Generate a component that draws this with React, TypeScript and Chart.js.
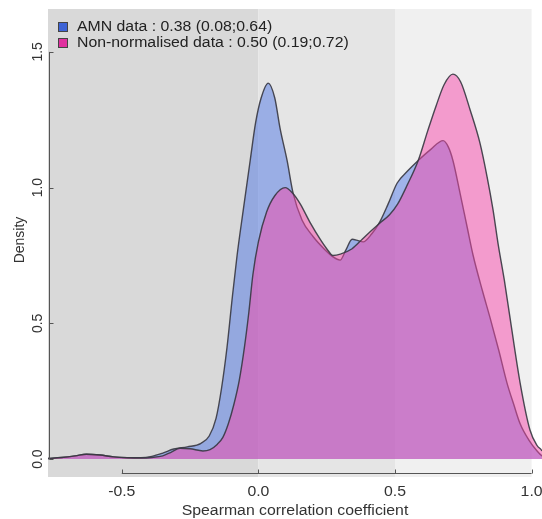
import React, { useEffect, useRef } from "react";
import { Chart, registerables } from "chart.js";

Chart.register(...registerables);

// ---- data ----
const amnX = [-0.77, -0.72, -0.67, -0.63, -0.58, -0.53, -0.48, -0.43, -0.39, -0.35, -0.31, -0.26, -0.21, -0.18, -0.155, -0.135, -0.115, -0.095, -0.078, -0.055, -0.03, -0.01, 0.01, 0.036, 0.06, 0.079, 0.105, 0.127, 0.16, 0.2, 0.24, 0.273, 0.299, 0.32, 0.343, 0.365, 0.383, 0.415, 0.445, 0.475, 0.508, 0.545, 0.585, 0.63, 0.676, 0.695, 0.712, 0.738, 0.764, 0.786, 0.82, 0.848, 0.88, 0.91, 0.935, 0.958, 0.99, 1.02, 1.04, 1.06];
const amnY = [0.002, 0.006, 0.012, 0.018, 0.015, 0.008, 0.005, 0.005, 0.01, 0.022, 0.037, 0.045, 0.058, 0.085, 0.15, 0.26, 0.41, 0.6, 0.75, 0.92, 1.1, 1.24, 1.33, 1.385, 1.33, 1.22, 1.1, 0.98, 0.88, 0.82, 0.775, 0.745, 0.733, 0.77, 0.81, 0.805, 0.8, 0.83, 0.875, 0.94, 1.017, 1.06, 1.1, 1.14, 1.173, 1.15, 1.1, 0.98, 0.855, 0.75, 0.62, 0.52, 0.4, 0.28, 0.2, 0.13, 0.07, 0.03, 0.01, 0];

const nonNormX = [-0.77, -0.72, -0.67, -0.63, -0.58, -0.53, -0.48, -0.43, -0.39, -0.35, -0.32, -0.287, -0.25, -0.203, -0.177, -0.15, -0.13, -0.11, -0.09, -0.07, -0.05, -0.035, -0.02, 0, 0.03, 0.06, 0.098, 0.125, 0.153, 0.19, 0.226, 0.25, 0.273, 0.3, 0.343, 0.38, 0.416, 0.445, 0.48, 0.51, 0.545, 0.585, 0.62, 0.65, 0.68, 0.712, 0.74, 0.775, 0.811, 0.837, 0.859, 0.877, 0.9, 0.921, 0.958, 0.994, 1.02, 1.038, 1.05];
const nonNormY = [0.002, 0.006, 0.012, 0.018, 0.015, 0.008, 0.005, 0.004, 0.006, 0.012, 0.025, 0.04, 0.038, 0.03, 0.035, 0.055, 0.08, 0.13, 0.2, 0.29, 0.42, 0.54, 0.68, 0.8, 0.91, 0.97, 1.0, 0.98, 0.94, 0.87, 0.81, 0.775, 0.75, 0.755, 0.775, 0.81, 0.844, 0.87, 0.9, 0.94, 1.01, 1.1, 1.21, 1.3, 1.38, 1.418, 1.39, 1.286, 1.164, 1.04, 0.917, 0.795, 0.66, 0.52, 0.28, 0.107, 0.05, 0.03, 0];

const seriesNames = ["AMN data : 0.38 (0.08;0.64)", "Non-normalised data : 0.50 (0.19;0.72)"];
const xTicks = [-0.5, 0, 0.5, 1.0];
const xTickLabels = ["-0.5", "0.0", "0.5", "1.0"];
const yTicks = [0, 0.5, 1.0, 1.5];
const yTickLabels = ["0.0", "0.5", "1.0", "1.5"];
const bandEdges = [-0.77, 0, 0.5, 1.0];
const xTitle = "Spearman correlation coefficient";
const yTitle = "Density";

// ---- styles ----
const bandColors = ["#d9d9d9", "#e5e5e5", "#f0f0f0"];
const amnFill = "rgba(80,120,230,0.5)";
const nonNormFill = "rgba(246,70,170,0.5)";
const legendColors = ["#3d63d6", "#e0309f"];
const outline = "rgba(55,55,65,0.9)";
const FONT = "14px 'Liberation Sans', Arial, Helvetica, sans-serif";
const SX = 1.13;

function sText(ctx: CanvasRenderingContext2D, text: string, x: number, y: number, align: CanvasTextAlign) {
  ctx.save();
  ctx.translate(x, y);
  ctx.scale(SX, 1);
  ctx.textAlign = align;
  ctx.textBaseline = "middle";
  ctx.fillText(text, 0, 0);
  ctx.restore();
}

const bandsPlugin = {
  id: "bands",
  beforeDraw(chart: any) {
    const { ctx, chartArea, scales } = chart;
    const x = scales.x;
    ctx.save();
    for (let i = 0; i < bandColors.length; i++) {
      const x0 = Math.max(x.getPixelForValue(bandEdges[i]), chartArea.left);
      const x1 = Math.min(x.getPixelForValue(bandEdges[i + 1]), chartArea.right);
      ctx.fillStyle = bandColors[i];
      ctx.fillRect(x0, chartArea.top, x1 - x0, chartArea.bottom - chartArea.top);
    }
    ctx.restore();
  },
};

const axesPlugin = {
  id: "rAxes",
  afterDatasetsDraw(chart: any) {
    const { ctx, chartArea, scales } = chart;
    const x = scales.x;
    const y = scales.y;
    ctx.save();
    ctx.strokeStyle = "#555";
    ctx.lineWidth = 1;
    ctx.fillStyle = "#333";
    ctx.font = FONT;

    // y axis
    const ax = chartArea.left + 1.5;
    ctx.beginPath();
    ctx.moveTo(ax, y.getPixelForValue(yTicks[0]));
    ctx.lineTo(ax, y.getPixelForValue(yTicks[yTicks.length - 1]));
    yTicks.forEach((t) => {
      const py = Math.round(y.getPixelForValue(t)) + 0.5;
      ctx.moveTo(ax, py);
      ctx.lineTo(ax + 4, py);
    });
    ctx.stroke();
    yTickLabels.forEach((lab, i) => {
      const py = y.getPixelForValue(yTicks[i]);
      ctx.save();
      ctx.translate(38, py);
      ctx.rotate(-Math.PI / 2);
      ctx.textAlign = "center";
      ctx.textBaseline = "middle";
      ctx.fillText(lab, 0, 0);
      ctx.restore();
    });

    // x axis
    const ay = chartArea.bottom - 3.5;
    ctx.beginPath();
    ctx.moveTo(x.getPixelForValue(xTicks[0]), ay);
    ctx.lineTo(x.getPixelForValue(xTicks[xTicks.length - 1]), ay);
    xTicks.forEach((t) => {
      const px = Math.round(x.getPixelForValue(t)) + 0.5;
      ctx.moveTo(px, ay);
      ctx.lineTo(px, ay - 4);
    });
    ctx.stroke();
    xTickLabels.forEach((lab, i) => {
      sText(ctx, lab, x.getPixelForValue(xTicks[i]), 492, "center");
    });

    // titles
    sText(ctx, xTitle, (chartArea.left + chartArea.right) / 2, 511, "center");
    ctx.save();
    ctx.translate(20, 240);
    ctx.rotate(-Math.PI / 2);
    ctx.textAlign = "center";
    ctx.textBaseline = "middle";
    ctx.fillText(yTitle, 0, 0);
    ctx.restore();

    // legend
    const rows = [27, 43];
    seriesNames.forEach((name, i) => {
      ctx.fillStyle = legendColors[i];
      ctx.fillRect(58.5, rows[i] - 4.5, 9, 9);
      ctx.strokeStyle = "#444";
      ctx.strokeRect(58.5, rows[i] - 4.5, 9, 9);
      ctx.fillStyle = "#222";
      sText(ctx, name, 77, rows[i], "left");
    });
    ctx.restore();
  },
};

export default function App() {
  const ref = useRef<HTMLCanvasElement | null>(null);
  useEffect(() => {
    if (!ref.current) return;
    const chart = new Chart(ref.current, {
      type: "line",
      data: {
        datasets: [
          {
            label: seriesNames[1],
            data: nonNormX.map((v, i) => ({ x: v, y: nonNormY[i] })),
            backgroundColor: nonNormFill,
            borderColor: outline,
            borderWidth: 1.4,
            fill: "origin",
            pointRadius: 0,
            cubicInterpolationMode: "monotone",
            order: 0,
          },
          {
            label: seriesNames[0],
            data: amnX.map((v, i) => ({ x: v, y: amnY[i] })),
            backgroundColor: amnFill,
            borderColor: outline,
            borderWidth: 1.4,
            fill: "origin",
            pointRadius: 0,
            cubicInterpolationMode: "monotone",
            order: 1,
          },
        ],
      },
      options: {
        animation: false,
        responsive: false,
        maintainAspectRatio: false,
        layout: { padding: { left: 48, top: 9, right: 0, bottom: 42 } },
        plugins: { legend: { display: false }, tooltip: { enabled: false } },
        scales: {
          x: { type: "linear", min: -0.77, max: 1.038, display: false },
          y: { type: "linear", min: -0.066, max: 1.658, display: false },
        },
      },
      plugins: [bandsPlugin, axesPlugin],
    } as any);
    return () => chart.destroy();
  }, []);
  return (
    <div style={{ position: "absolute", left: 0, top: 0, width: 542, height: 519, background: "#fff" }}>
      <canvas ref={ref} width={542} height={519} style={{ width: 542, height: 519 }} />
    </div>
  );
}
